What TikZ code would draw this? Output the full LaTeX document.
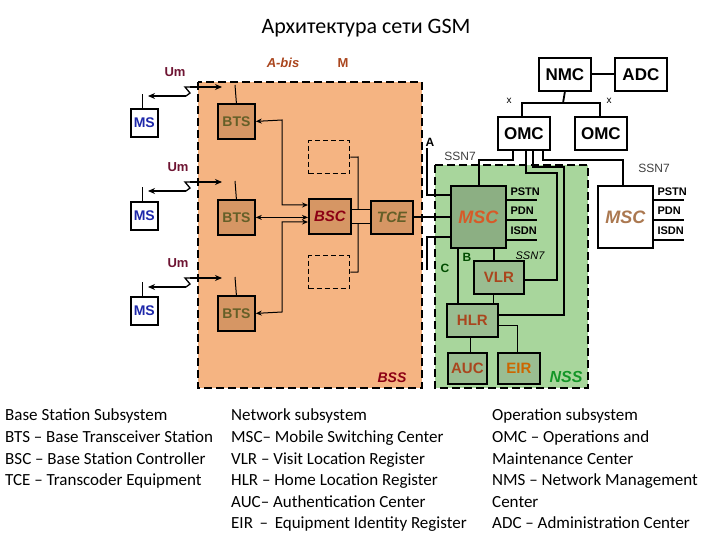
\documentclass[tikz,border=0pt]{standalone}
\usepackage{fontspec}
\setmainfont{Carlito}
\newfontfamily\hv{Liberation Sans}
\usetikzlibrary{arrows.meta}
\definecolor{bssfill}{RGB}{245,180,130}
\definecolor{nssfill}{RGB}{168,214,156}
\definecolor{btsfill}{RGB}{214,150,100}
\definecolor{btstext}{RGB}{100,95,40}
\definecolor{msblue}{RGB}{30,40,170}
\definecolor{umcol}{RGB}{110,20,50}
\definecolor{lblbrown}{RGB}{170,70,30}
\definecolor{darkred}{RGB}{140,0,20}
\definecolor{mscor}{RGB}{215,90,40}
\definecolor{greentext}{RGB}{20,150,40}
\newcommand{\fsz}[1]{\fontsize{#1}{#1}\selectfont}
\begin{document}
\begin{tikzpicture}[x=1pt,y=-1pt,
  box/.style={draw=black,line width=1.8pt,inner sep=0pt,anchor=north west,font=\hv\bfseries\fsz{15}},
  bts/.style={box,fill=btsfill,text=btstext,minimum width=37pt,minimum height=35pt,font=\hv\bfseries\fsz{14}},
  msb/.style={draw=black,line width=1.6pt,fill=white,inner sep=0pt,anchor=north west,minimum width=27pt,minimum height=28pt,text=msblue,font=\hv\bfseries\fsz{14}},
  wbox/.style={box,fill=white,minimum width=52pt,minimum height=33pt,font=\hv\bfseries\fsz{17}},
  gbox/.style={box,fill=nssfill!85!black!90,minimum width=50pt,minimum height=33pt,font=\hv\bfseries\fsz{15}},
  dbox/.style={draw=black,line width=1.4pt,dash pattern=on 5pt off 3pt,anchor=north west,minimum width=41pt,minimum height=33pt,inner sep=0pt},
  ln/.style={draw=black,line width=1pt},
  tk/.style={draw=black,line width=1.8pt},
  arr/.style={ln,-{Stealth[length=7pt,width=6pt]}},
  lbl/.style={font=\hv\bfseries\fsz{11}},
  leg/.style={anchor=base west,font=\fsz{17},inner sep=0pt}]
\useasboundingbox (0,0) rectangle (720,540);
\fill[white] (0,0) rectangle (720,540);
\node[font=\fsz{22}] (title) at (366,28) {Архитектура сети GSM};
% subsystem areas
\draw[fill=bssfill,line width=1.3pt,dash pattern=on 8pt off 4pt] (198,82) rectangle (422,388);
\draw[fill=nssfill,line width=1.3pt,dash pattern=on 8pt off 4pt] (435,165) rectangle (588,388);
\node[font=\hv\bfseries\itshape\fsz{14},text=darkred] (bsslbl) at (392,378) {BSS};
\node[font=\hv\bfseries\itshape\fsz{16},text=greentext] (nsslbl) at (566,377) {NSS};
% MS
\node[msb] (ms1) at (130,108) {MS};
\node[msb] (ms2) at (130,201) {MS};
\node[msb] (ms3) at (130,296) {MS};
% BTS
\node[bts] (bts1) at (217,103) {BTS};
\node[bts] (bts2) at (217,199) {BTS};
\node[bts] (bts3) at (217,295) {BTS};
\node[box,fill=btsfill,text=darkred,font=\hv\bfseries\itshape\fsz{15},minimum width=42pt,minimum height=35pt] (bsc) at (308,198) {BSC};
\node[box,fill=btsfill,text=btstext,font=\hv\bfseries\itshape\fsz{15},minimum width=42pt,minimum height=33pt] (tce) at (370,200) {TCE};
\node[dbox] (d1) at (308,140) {};
\node[dbox] (d2) at (308,255) {};
% labels
\node[font=\hv\bfseries\fsz{13},text=umcol] (um1) at (175,72) {Um};
\node[font=\hv\bfseries\fsz{13},text=umcol] (um2) at (178,167) {Um};
\node[font=\hv\bfseries\fsz{13},text=umcol] (um3) at (178,263) {Um};
\node[font=\hv\bfseries\itshape\fsz{13},text=lblbrown] (abis) at (283,63) {A-bis};
\node[font=\hv\bfseries\fsz{13},text=lblbrown] (mlbl) at (343,63) {M};
% antennas and radio links
\foreach \i/\y in {1/108,2/201,3/296}{
  \coordinate (msa\i) at (142,\y-14);
  \draw[ln] (ms\i.north -| msa\i) -- (msa\i);
}
\foreach \i/\y in {1/103,2/199,3/295}{
  \coordinate (btsa\i) at (235,\y-18);
  \draw[ln] (bts\i.north) -- (btsa\i);
}
\foreach \y in {96,191,287}{
  \coordinate (rl) at (148,\y);
  \coordinate (rr) at (222,\y-9);
  \draw[arr,line width=1.3pt] (186,\y) -- (rl);
  \draw[ln,line width=1.3pt] (186,\y) -- (190,\y-3) -- (185,\y-9) -- (190,\y-9);
  \draw[arr,line width=1.3pt] (190,\y-9) -- (rr);
}
% BTS - BSC
\coordinate (b1a) at (282,120); \coordinate (b1b) at (282,205);
\draw[ln,{Stealth[length=6pt,width=5pt]}-{Stealth[length=6pt,width=5pt]}] (bts1.east) -- (b1a) -- (b1b) -- (bsc.west |- b1b);
\draw[ln,{Stealth[length=6pt,width=5pt]}-{Stealth[length=6pt,width=5pt]}] (bts2.east) -- (bsc.west |- bts2.east);
\coordinate (b3a) at (282,312); \coordinate (b3b) at (282,222);
\draw[ln,{Stealth[length=6pt,width=5pt]}-{Stealth[length=6pt,width=5pt]}] (bts3.east) -- (b3a) -- (b3b) -- (bsc.west |- b3b);
% BSC - TCE
\draw[ln] (bsc.east |- 0,210) -- (tce.west |- 0,210);
\draw[ln] (bsc.east |- 0,224) -- (tce.west |- 0,224);
\draw[ln] (d1.east) -- (358,157) -- (358,210);
\draw[ln] (d2.east) -- (358,272) -- (358,224);
% TCE - MSC
\node[box,fill=nssfill!80!black!95,text=mscor,font=\hv\bfseries\itshape\fsz{18},minimum width=55pt,minimum height=62pt] (msc) at (450,185) {MSC};
\draw[tk] (tce.east) -- (msc.west |- tce.east);
\draw[tk] (427,148) -- (427,195) -- (msc.west |- 0,195);
\draw[tk] (427,270) -- (427,237) -- (msc.west |- 0,237);
\node[font=\hv\bfseries\fsz{12}] (albl) at (430,142) {A};
\node[font=\hv\bfseries\fsz{12},text=black!70!green] (clbl) at (445,268) {C};
\node[font=\hv\bfseries\fsz{12},text=black!70!green] (blbl) at (467,257) {B};
% OSS
\node[wbox] (nmc) at (538,57) {NMC};
\node[wbox] (adc) at (614,57) {ADC};
\node[wbox] (omc1) at (497,116) {OMC};
\node[wbox] (omc2) at (574,116) {OMC};
\draw[tk] (nmc) -- (adc);
\draw[tk] (nmc.south) -- (563,103) -- (522,103) -- (omc1.north -| 522,0);
\draw[tk] (563,103) -- (600,103) -- (omc2.north -| 600,0);
\node[font=\hv\fsz{10}] (x1) at (509,101) {x};
\node[font=\hv\fsz{10}] (x2) at (609,101) {x};
\node[font=\hv\fsz{12},text=black!75] (ss1) at (460,156) {SSN7};
\node[font=\hv\fsz{12},text=black!75] (ss2) at (654,168) {SSN7};
% NSS boxes
\node[gbox,text=lblbrown] (vlr) at (473,260) {VLR};
\node[gbox,text=lblbrown,minimum width=51pt] (hlr) at (446,303) {HLR};
\node[gbox,text=lblbrown,minimum width=39pt,minimum height=31pt] (auc) at (447,352) {AUC};
\node[gbox,text=orange!80!black,minimum width=42pt,minimum height=31pt] (eir) at (497,352) {EIR};
\node[box,fill=white,text=btsfill!80!black,font=\hv\bfseries\itshape\fsz{18},minimum width=55pt,minimum height=62pt] (msc2) at (597,185) {MSC};
% PSTN etc
\foreach \m/\x in {msc/505,msc2/652}{
  \node[lbl,anchor=west] at (\x+2,192) {PSTN};
  \node[lbl,anchor=west] at (\x+2,211) {PDN};
  \node[lbl,anchor=west] at (\x+2,231) {ISDN};
  \draw[tk,line width=1.3pt] (\m.east |- 0,200) -- (\x+32,200);
  \draw[tk,line width=1.3pt] (\m.east |- 0,220) -- (\x+32,220);
  \draw[tk,line width=1.3pt] (\m.east |- 0,240) -- (\x+32,240);
}
\node[font=\hv\itshape\fsz{11}] (ss3) at (530,256) {SSN7};
% OMC connections
\draw[tk] (omc1.south -| 513,0) -- (513,160) -- (479,160) -- (msc.north -| 479,0);
\draw[tk] (omc1.south -| 526,0) -- (526,173) -- (557,173) -- (557,280) -- (vlr.east |- 0,280);
\draw[tk] (omc1.south -| 533,0) -- (533,167) -- (564,167) -- (564,315) -- (hlr.east |- 0,315);
\draw[tk] (omc1.south -| 543,0) -- (543,160) -- (623,160) -- (msc2.north -| 623,0);
% internal NSS
\draw[tk] (msc.south -| 494,0) -- (vlr.north -| 494,0);
\draw[tk] (msc.south -| 458,0) -- (hlr.north -| 458,0);
\draw[ln] (vlr.south -| 493,0) -- (hlr.north -| 493,0);
\draw[ln] (hlr.south -| 470,0) -- (auc.north -| 470,0);
\draw[ln] (hlr.east |- 0,325) -- (517,325) -- (eir.north -| 517,0);
% legend
\node[leg] (l11) at (5,420) {Base Station Subsystem};
\node[leg] (l12) at (5,442) {BTS – Base Transceiver Station};
\node[leg] (l13) at (5,464) {BSC – Base Station Controller};
\node[leg] (l14) at (5,485) {TCE – Transcoder Equipment};
\node[leg] (l21) at (231,420) {Network subsystem};
\node[leg] (l22) at (231,442) {MSC– Mobile Switching Center};
\node[leg] (l23) at (231,464) {VLR – Visit Location Register};
\node[leg] (l24) at (231,485) {HLR – Home Location Register};
\node[leg] (l25) at (231,507) {AUC– Authentication Center};
\node[leg] (l26) at (231,528) {EIR \,– \,Equipment Identity Register};
\node[leg] (l31) at (492,420) {Operation subsystem};
\node[leg] (l32) at (492,442) {OMC – Operations and};
\node[leg] (l33) at (492,464) {Maintenance Center};
\node[leg] (l34) at (492,485) {NMS – Network Management};
\node[leg] (l35) at (492,507) {Center};
\node[leg] (l36) at (492,528) {ADC – Administration Center};
\end{tikzpicture}
\end{document}
